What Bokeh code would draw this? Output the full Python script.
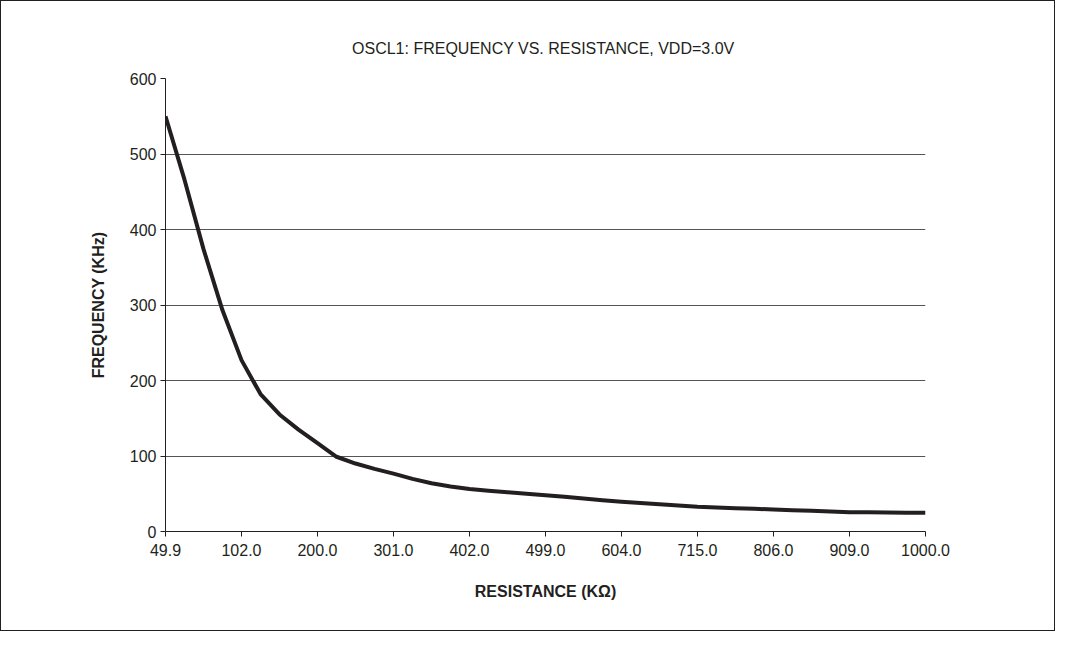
from bokeh.plotting import figure
from bokeh.models import Range1d, FixedTicker, Title
from bokeh.embed import file_html
from bokeh.resources import INLINE

# Tick labels of the resistance (category) axis, KOhm
tick_labels = ["49.9", "102.0", "200.0", "301.0", "402.0", "499.0",
               "604.0", "715.0", "806.0", "909.0", "1000.0"]

# Sample positions along the category axis (4 steps between labelled ticks)
positions = list(range(41))

# Frequency (KHz) at each position
frequency = [550, 466, 374, 293, 227, 182, 155, 135, 117, 99,
             90, 83, 76.6, 69.7, 63.9, 59.7, 56.2, 54, 52, 50,
             48.1, 45.9, 43.7, 41.5, 39.3, 37.6, 36.0, 34.4, 32.7, 31.8,
             30.9, 30.0, 29.1, 28.3, 27.4, 26.5, 25.6, 25.4, 25.1, 24.9, 24.7]

TXT = "#231f20"
FONT = "Liberation Sans"

p = figure(frame_width=760, frame_height=453,
           min_border_left=164, min_border_right=129,
           min_border_top=77, min_border_bottom=99,
           x_range=Range1d(0, 40), y_range=Range1d(0, 600),
           output_backend="svg", toolbar_location=None,
           background_fill_color="white", border_fill_color="white")
p.styles = {"border": "1px solid #231f20"}
p.outline_line_color = None

p.title = Title(text="OSCL1:  FREQUENCY VS. RESISTANCE, VDD=3.0V",
                align="center", text_font=FONT, text_font_size="16px",
                text_font_style="normal", text_color=TXT, standoff=44,
                offset=4)

p.line(positions, frequency, line_color=TXT, line_width=4, line_join="round")

# x axis
p.xaxis.ticker = FixedTicker(ticks=[i * 4 for i in range(len(tick_labels))])
p.xaxis.major_label_overrides = {i * 4: lab for i, lab in enumerate(tick_labels)}
p.xaxis.axis_label = "RESISTANCE (K\u03a9)"
p.xaxis.axis_label_standoff = 24
p.xaxis.major_label_standoff = 7
p.xaxis.minor_tick_line_color = None

# y axis
p.yaxis.ticker = FixedTicker(ticks=[0, 100, 200, 300, 400, 500, 600])
p.yaxis.axis_label = "FREQUENCY (KHz)"
p.yaxis.axis_label_standoff = 20
p.yaxis.major_label_standoff = 4
p.yaxis.minor_tick_line_color = None

for ax in (p.xaxis, p.yaxis):
    ax.axis_line_color = TXT
    ax.axis_line_width = 1
    ax.major_tick_line_color = TXT
    ax.major_tick_in = 0
    ax.major_tick_out = 5
    ax.major_label_text_font = FONT
    ax.major_label_text_font_size = "16px"
    ax.major_label_text_color = TXT
    ax.axis_label_text_font = FONT
    ax.axis_label_text_font_size = "16px"
    ax.axis_label_text_font_style = "bold"
    ax.axis_label_text_color = TXT

p.xgrid.grid_line_color = None
p.ygrid.grid_line_color = "#555555"
p.ygrid.grid_line_width = 1

open("out.html", "w").write(file_html(p, INLINE))
